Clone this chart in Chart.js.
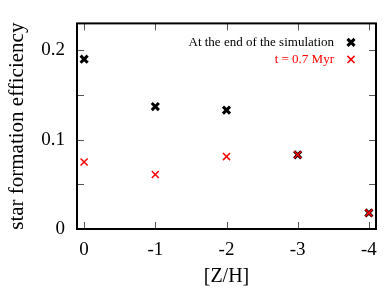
<!DOCTYPE html>
<html>
<head>
<meta charset="utf-8">
<script src="https://cdn.jsdelivr.net/npm/chart.js@4/dist/chart.umd.min.js"></script>
<style>
  html, body { margin: 0; padding: 0; background: #fff; }
  #wrap { width: 390px; height: 299px; }
</style>
</head>
<body>
<div id="wrap"><canvas id="graf"></canvas></div>
<script>
// metalicidade [Z/H] e eficiência de formação estelar
const metalicidade = [0, -1, -2, -3, -4];
const sfeFinal     = [0.190, 0.137, 0.133, 0.083, 0.018];
const sfe07Myr     = [0.075, 0.061, 0.081, 0.083, 0.018];
const rotulosY     = [0, 0.1, 0.2];
const legendaTxt   = ['At the end of the simulation', 't = 0.7 Myr'];

const SERIF = "'Liberation Serif', 'DejaVu Serif', serif";
const PRETO = '#000';
const VERMELHO = '#ff0000';

const pontos = (ys) => metalicidade.map((x, i) => ({ x: x, y: ys[i] }));

// ticks internos nos quatro lados + moldura
const molduraPlugin = {
    id: 'moldura',
    afterDraw(chart) {
        const { ctx, chartArea: a, scales } = chart;
        ctx.save();
        ctx.strokeStyle = '#555';
        ctx.lineWidth = 1;
        const L = 7;
        scales.x.ticks.forEach(t => {
            const px = Math.round(scales.x.getPixelForValue(t.value)) + 0.5;
            ctx.beginPath();
            ctx.moveTo(px, a.bottom); ctx.lineTo(px, a.bottom - L);
            ctx.moveTo(px, a.top);    ctx.lineTo(px, a.top + L);
            ctx.stroke();
        });
        scales.y.ticks.forEach(t => {
            const py = Math.round(scales.y.getPixelForValue(t.value)) + 0.5;
            ctx.beginPath();
            ctx.moveTo(a.left, py);  ctx.lineTo(a.left + L, py);
            ctx.moveTo(a.right, py); ctx.lineTo(a.right - L, py);
            ctx.stroke();
        });
        ctx.strokeStyle = PRETO;
        ctx.lineWidth = 2;
        ctx.strokeRect(a.left, a.top, a.right - a.left, a.bottom - a.top);

        // legenda: texto à esquerda, marcador à direita
        ctx.font = '13px ' + SERIF;
        ctx.textAlign = 'right';
        ctx.textBaseline = 'middle';
        const estilos = [
            { cor: PRETO, w: 3, r: 5 },
            { cor: VERMELHO, w: 1.5, r: 5 }
        ];
        legendaTxt.forEach((txt, i) => {
            const y = a.top + 19 + i * 17;
            ctx.fillStyle = estilos[i].cor;
            ctx.fillText(txt, a.right - 42, y);
            ctx.strokeStyle = estilos[i].cor;
            ctx.lineWidth = estilos[i].w;
            Chart.helpers.drawPoint(ctx, {
                pointStyle: 'crossRot', radius: estilos[i].r, borderWidth: estilos[i].w, rotation: 0
            }, a.right - 25, y);
        });
        ctx.restore();
    }
};

new Chart(document.getElementById('graf'), {
    type: 'scatter',
    data: {
        datasets: [
            {
                label: legendaTxt[0],
                data: pontos(sfeFinal),
                pointStyle: 'crossRot',
                pointRadius: 5,
                borderWidth: 3,
                borderColor: PRETO,
                backgroundColor: PRETO,
                order: 2
            },
            {
                label: legendaTxt[1],
                data: pontos(sfe07Myr),
                pointStyle: 'crossRot',
                pointRadius: 5,
                borderWidth: 1.5,
                borderColor: VERMELHO,
                backgroundColor: VERMELHO,
                order: 1
            }
        ]
    },
    options: {
        responsive: true,
        maintainAspectRatio: false,
        animation: false,
        layout: { padding: { top: 20, right: 14, left: 0, bottom: 0 } },
        plugins: {
            legend: { display: false },
            tooltip: { enabled: false }
        },
        scales: {
            x: {
                type: 'linear',
                reverse: true,
                min: -4.1,
                max: 0.1,
                grid: { display: false, drawTicks: false },
                border: { display: false },
                ticks: {
                    stepSize: 1,
                    includeBounds: false,
                    padding: 10,
                    color: PRETO,
                    font: { size: 19, family: SERIF },
                    callback: v => metalicidade.includes(v) ? String(v) : ''
                },
                title: {
                    display: true,
                    text: '[Z/H]',
                    color: PRETO,
                    font: { size: 20, family: SERIF },
                    padding: { top: 2, bottom: 10 }
                },
                afterFit: s => { s.height = 70; }
            },
            y: {
                min: 0,
                max: 0.23,
                grid: { display: false, drawTicks: false },
                border: { display: false },
                ticks: {
                    stepSize: 0.05,
                    includeBounds: false,
                    padding: 12,
                    color: PRETO,
                    font: { size: 19, family: SERIF },
                    callback: v => {
                        const r = rotulosY.find(t => Math.abs(t - v) < 1e-9);
                        return r === undefined ? '' : String(r);
                    }
                },
                title: {
                    display: true,
                    text: 'star formation efficiency',
                    color: PRETO,
                    font: { size: 21, family: SERIF },
                    padding: { top: 5, bottom: 0 }
                },
                afterFit: s => { s.width = 77; }
            }
        }
    },
    plugins: [molduraPlugin]
});
</script>
</body>
</html>
